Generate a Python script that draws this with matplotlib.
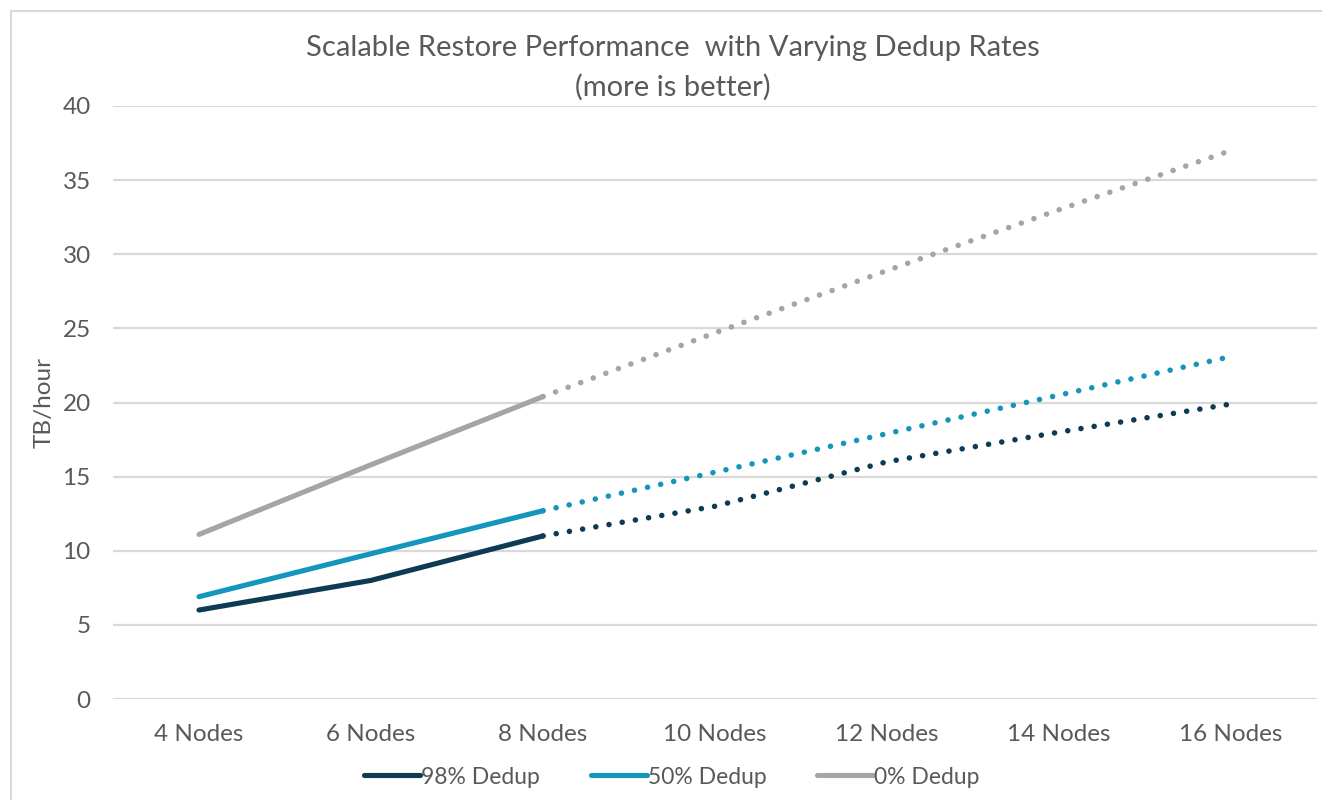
import matplotlib.pyplot as plt
from matplotlib.patches import Rectangle

# chart data
categories = ["4 Nodes", "6 Nodes", "8 Nodes", "10 Nodes", "12 Nodes", "14 Nodes", "16 Nodes"]
dedup_98 = [6.0, 8.0, 11.0, 13.0, 16.0, 18.0, 19.9]
dedup_50 = [6.9, 9.8, 12.7, 15.3, 17.9, 20.5, 23.1]
dedup_0 = [11.1, 15.8, 20.4, 24.7, 28.9, 33.0, 37.0]
series_names = ["98% Dedup", "50% Dedup", "0% Dedup"]
n_measured = 3  # first three points measured (solid), rest projected (dotted)

colors = ["#0D3B54", "#1496BC", "#A5A5A5"]
text_color = "#595959"
grid_color = "#D9D9D9"

plt.rcParams['font.family'] = ['Lato', 'DejaVu Sans']

fig = plt.figure(figsize=(13.22, 8), dpi=100)
ax = fig.add_axes([113 / 1322, 1 - 699 / 800, 1204 / 1322, 593 / 800])

x = list(range(len(categories)))
lw = 3.7
for vals, col, name in zip([dedup_98, dedup_50, dedup_0], colors, series_names):
    # measured part
    ax.plot(x[:n_measured], vals[:n_measured], color=col, lw=lw,
            solid_capstyle='round', solid_joinstyle='round', label=name, zorder=3)
    # projected part
    ax.plot(x[n_measured - 1:], vals[n_measured - 1:], color=col, lw=lw + 0.3,
            linestyle=(0, (0.01, 2.4)), dash_capstyle='round', zorder=3)

ax.set_xlim(-0.5, len(categories) - 0.5)
ax.set_ylim(0, 40)
ax.set_yticks(range(0, 41, 5))
ax.set_xticks(x)
ax.set_xticklabels(categories)
ax.tick_params(axis='both', length=0, labelsize=17.5, labelcolor=text_color)
ax.tick_params(axis='x', pad=18)
ax.tick_params(axis='y', pad=16)
ax.grid(axis='y', color=grid_color, lw=1.6)
ax.set_axisbelow(True)
for s in ax.spines.values():
    s.set_visible(False)

ax.set_ylabel("TB/hour", fontsize=17.5, color=text_color)
ax.yaxis.set_label_coords(-(113 - 55) / 1204, 0.5)

fig.text(673 / 1322, 1 - 48 / 800, "Scalable Restore Performance  with Varying Dedup Rates",
         ha='center', va='center', fontsize=21, color=text_color)
fig.text(673 / 1322, 1 - 87 / 800, "(more is better)",
         ha='center', va='center', fontsize=21, color=text_color)

# legend below the chart
leg = fig.legend(loc='center', bbox_to_anchor=(672 / 1322, 1 - 777 / 800), ncol=3,
                 frameon=False, fontsize=16.5, handlelength=2.45, handletextpad=0.05,
                 columnspacing=2.2)
for t in leg.get_texts():
    t.set_color(text_color)

# outer chart border
fig.patches.append(Rectangle((11 / 1322, -0.1), 1.2, 1 - 11 / 800 + 0.1,
                             transform=fig.transFigure, fill=False,
                             edgecolor=grid_color, lw=1.5))

fig.savefig("out.png", dpi=100)
